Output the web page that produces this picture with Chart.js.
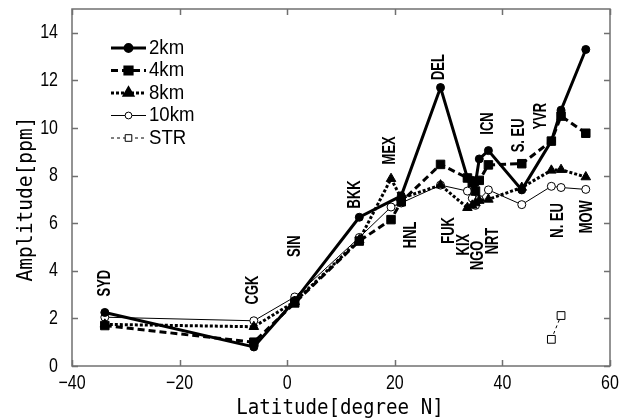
<!DOCTYPE html>
<html>
<head>
<meta charset="utf-8">
<script src="https://cdn.jsdelivr.net/npm/chart.js@4/dist/chart.umd.min.js"></script>
<style>
  html, body { margin: 0; padding: 0; background: #fff; }
  #wrap { width: 632px; height: 418px; }
</style>
</head>
<body>
<div id="wrap"><canvas id="chart" width="632" height="418"></canvas></div>
<script>
(() => {
  "use strict";

  // ── Data ─────────────────────────────────────────────────────────────────
  const STATIONS = ["SYD", "CGK", "SIN", "BKK", "MEX", "HNL", "DEL", "FUK",
                    "KIX", "NGO", "NRT", "ICN", "S. EU", "YVR", "N. EU", "MOW"];
  const LATITUDE = [-33.9, -6.2, 1.4, 13.4, 19.3, 21.2, 28.5, 33.5,
                    34.4, 35.0, 35.7, 37.4, 43.6, 49.1, 50.9, 55.5];
  const AMP_2KM  = [2.25, 0.8, 2.75, 6.25, null, 7.15, 11.7, 7.9,
                    7.8, 7.7, 8.7, 9.05, 7.4, 9.45, 10.75, 13.3];
  const AMP_4KM  = [1.7, 1.0, 2.65, 5.25, 6.15, 6.9, 8.47, 7.9,
                    7.7, 7.35, 7.8, 8.45, 8.5, 9.45, 10.5, 9.78];
  const AMP_8KM  = [1.75, 1.65, 2.7, 5.3, 7.87, 7.05, 7.6, 6.65,
                    6.75, 6.85, 6.95, 7.0, 7.5, 8.22, 8.25, 7.94];
  const AMP_10KM = [2.05, 1.9, 2.9, 5.4, 6.68, 6.85, 7.6, 7.35,
                    7.05, 6.75, 7.0, 7.4, 6.78, 7.55, 7.5, 7.42];
  const STR_LAT  = [49.1, 50.9];
  const AMP_STR  = [1.12, 2.12];

  const X_TICKS = [-40, -20, 0, 20, 40, 60];
  const Y_TICKS = [0, 2, 4, 6, 8, 10, 12, 14];

  // station label anchors, in data units (latitude, amplitude)
  const LABEL_AT = [
    [-33.9, 3.48], [-6.4, 3.19], [1.4, 5.03], [12.6, 7.21], [19.1, 9.06],
    [23.0, 5.51], [28.3, 12.56], [30.1, 5.7], [32.9, 5.1], [35.5, 4.65],
    [38.2, 5.25], [37.4, 10.19], [43.1, 9.69], [47.2, 10.5], [50.4, 6.12],
    [55.8, 6.27],
  ];

  const points = (xs, ys) =>
    xs.map((x, i) => ({ x, y: ys[i] })).filter((p) => p.y !== null);

  const MONO = '"DejaVu Sans Mono", "Liberation Mono", monospace';
  const SANS = '"Liberation Sans", Arial, sans-serif';

  function text(ctx, s, x, y, font, squeeze, align, rot) {
    ctx.save();
    ctx.translate(x, y);
    if (rot) ctx.rotate(rot);
    ctx.scale(squeeze, 1);
    ctx.font = font;
    ctx.fillStyle = "#000";
    ctx.textAlign = align;
    ctx.textBaseline = "middle";
    ctx.fillText(s, 0, 0);
    ctx.restore();
  }

  // ── Frame, inward ticks, texts and legend ────────────────────────────────
  const decorations = {
    id: "decorations",
    afterDraw(chart) {
      const { ctx, chartArea: a, scales: { x, y } } = chart;
      ctx.save();
      ctx.strokeStyle = "#707070";
      ctx.lineWidth = 1.5;
      ctx.strokeRect(a.left, a.top, a.right - a.left, a.bottom - a.top);
      ctx.beginPath();
      X_TICKS.forEach((v) => {
        const px = Math.round(x.getPixelForValue(v)) + 0.5;
        ctx.moveTo(px, a.bottom); ctx.lineTo(px, a.bottom - 6);
        ctx.moveTo(px, a.top); ctx.lineTo(px, a.top + 6);
      });
      Y_TICKS.forEach((v) => {
        const py = Math.round(y.getPixelForValue(v)) + 0.5;
        ctx.moveTo(a.left, py); ctx.lineTo(a.left + 6, py);
        ctx.moveTo(a.right, py); ctx.lineTo(a.right - 6, py);
      });
      ctx.stroke();
      ctx.restore();

      const tickFont = `20px ${SANS}`;
      X_TICKS.forEach((v) => {
        const s = v < 0 ? "\u2212" + Math.abs(v) : String(v);
        text(ctx, s, x.getPixelForValue(v), a.bottom + 17, tickFont, 0.8, "center");
      });
      Y_TICKS.forEach((v) => {
        text(ctx, String(v), a.left - 14, y.getPixelForValue(v), tickFont, 0.8, "right");
      });

      text(ctx, "Latitude[degree N]", (a.left + a.right) / 2 - 1, a.bottom + 42,
        `22px ${MONO}`, 0.87, "center");
      text(ctx, "Amplitude[ppm]", 26, 199, `22px ${MONO}`, 0.89, "center", -Math.PI / 2);

      STATIONS.forEach((name, i) => {
        const [lat, amp] = LABEL_AT[i];
        text(ctx, name, x.getPixelForValue(lat), y.getPixelForValue(amp),
          `bold 18px ${SANS}`, 0.72, "center", -Math.PI / 2);
      });

      // legend
      chart.data.datasets.forEach((ds, i) => {
        const ly = 48 + i * 22.5;
        ctx.save();
        ctx.strokeStyle = "#000";
        ctx.lineWidth = ds.borderWidth;
        ctx.setLineDash(ds.borderDash || []);
        ctx.beginPath();
        ctx.moveTo(111, ly); ctx.lineTo(146, ly);
        ctx.stroke();
        ctx.setLineDash([]);
        ctx.fillStyle = ds.pointBackgroundColor;
        ctx.strokeStyle = "#000";
        Chart.helpers.drawPoint(ctx, {
          pointStyle: ds.pointStyle,
          radius: ds.pointRadius * 0.85,
          borderWidth: ds.pointBorderWidth,
          rotation: 0,
        }, 128.5, ly);
        ctx.restore();
        text(ctx, ds.label, 149, ly, `20px ${SANS}`, 0.93, "left");
      });
    },
  };

  const common = { borderColor: "#000", pointBorderColor: "#000", tension: 0 };

  new Chart(document.getElementById("chart"), {
    type: "line",
    data: {
      datasets: [
        { ...common, label: "2km", data: points(LATITUDE, AMP_2KM),
          borderWidth: 3, pointStyle: "circle", pointRadius: 4,
          pointBackgroundColor: "#000", pointBorderWidth: 1 },
        { ...common, label: "4km", data: points(LATITUDE, AMP_4KM),
          borderWidth: 3, borderDash: [7, 4], pointStyle: "rect", pointRadius: 6,
          pointBackgroundColor: "#000", pointBorderWidth: 1 },
        { ...common, label: "8km", data: points(LATITUDE, AMP_8KM),
          borderWidth: 3, borderDash: [3, 2], pointStyle: "triangle", pointRadius: 5.5,
          pointBackgroundColor: "#000", pointBorderWidth: 1 },
        { ...common, label: "10km", data: points(LATITUDE, AMP_10KM),
          borderWidth: 1, pointStyle: "circle", pointRadius: 4,
          pointBackgroundColor: "#fff", pointBorderWidth: 1 },
        { ...common, label: "STR", data: points(STR_LAT, AMP_STR),
          borderWidth: 1, borderDash: [3, 3], pointStyle: "rect", pointRadius: 5.5,
          pointBackgroundColor: "#fff", pointBorderWidth: 1 },
      ],
    },
    options: {
      responsive: false,
      animation: false,
      events: [],
      layout: { padding: { left: 72, right: 22, top: 9, bottom: 52 } },
      plugins: { legend: { display: false }, tooltip: { enabled: false } },
      scales: {
        x: {
          type: "linear", min: -40, max: 60,
          ticks: { display: false, stepSize: 20 },
          grid: { display: false, drawTicks: false },
          border: { display: false },
        },
        y: {
          min: 0, max: 15,
          ticks: { display: false, stepSize: 2, includeBounds: false },
          grid: { display: false, drawTicks: false },
          border: { display: false },
        },
      },
    },
    plugins: [decorations],
  });
})();
</script>
</body>
</html>
